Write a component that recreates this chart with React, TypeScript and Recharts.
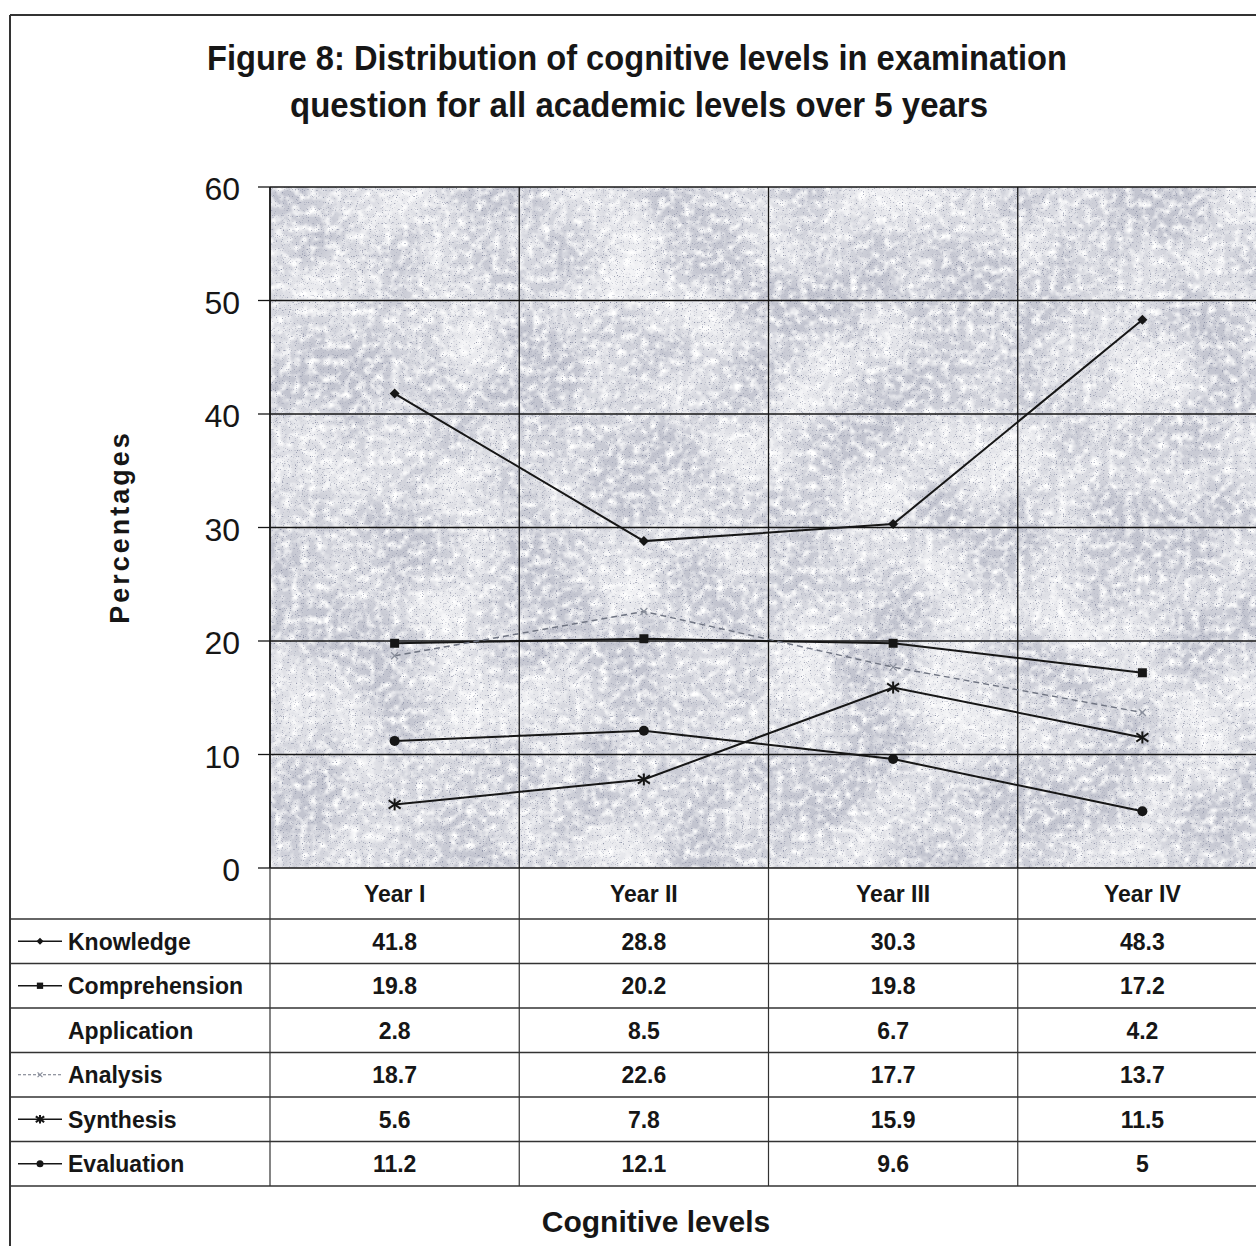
import React from "react";
import { LineChart, Line, XAxis, YAxis, CartesianGrid } from "recharts";

const years = ["Year I", "Year II", "Year III", "Year IV"];
const knowledge = [41.8, 28.8, 30.3, 48.3];
const comprehension = [19.8, 20.2, 19.8, 17.2];
const application = [2.8, 8.5, 6.7, 4.2];
const analysis = [18.7, 22.6, 17.7, 13.7];
const synthesis = [5.6, 7.8, 15.9, 11.5];
const evaluation = [11.2, 12.1, 9.6, 5];
const yTicks = [0, 10, 20, 30, 40, 50, 60];

const data = years.map((year, i) => ({
  year,
  knowledge: knowledge[i],
  comprehension: comprehension[i],
  application: application[i],
  analysis: analysis[i],
  synthesis: synthesis[i],
  evaluation: evaluation[i],
}));

// layout
const W = 1256;
const H = 1246;
const PLOT_L = 270;
const PLOT_T = 187;
const PLOT_B = 868;
const PLOT_R = 1267;
const CHART_W = 1290;
const COL_W = (PLOT_R - PLOT_L) / years.length;
const ROW_H = 44.5;
const TABLE_TOP = 919;
const FONT = "'Liberation Sans', Arial, sans-serif";
const INK = "#161616";

type Marker = "diamond" | "square" | "circle" | "star" | "cross" | "none";

function markerShape(kind: Marker, cx: number, cy: number, key?: React.Key, s = 1) {
  if (kind === "diamond") {
    const r = 5 * s;
    return <path key={key} d={`M${cx},${cy - r}L${cx + r},${cy}L${cx},${cy + r}L${cx - r},${cy}Z`} fill={INK} />;
  }
  if (kind === "square") {
    const r = 4.5 * s;
    return <rect key={key} x={cx - r} y={cy - r} width={2 * r} height={2 * r} fill={INK} />;
  }
  if (kind === "circle") {
    return <circle key={key} cx={cx} cy={cy} r={5 * s} fill={INK} />;
  }
  if (kind === "star") {
    const r = 6 * s;
    return (
      <g key={key} stroke={INK} strokeWidth={2}>
        <line x1={cx} y1={cy - r} x2={cx} y2={cy + r} />
        <line x1={cx - r} y1={cy - r * 0.7} x2={cx + r} y2={cy + r * 0.7} />
        <line x1={cx - r} y1={cy + r * 0.7} x2={cx + r} y2={cy - r * 0.7} />
      </g>
    );
  }
  if (kind === "cross") {
    const r = 3.5 * s;
    return (
      <g key={key} stroke="#8a8f9c" strokeWidth={1.2}>
        <line x1={cx - r} y1={cy - r} x2={cx + r} y2={cy + r} />
        <line x1={cx - r} y1={cy + r} x2={cx + r} y2={cy - r} />
      </g>
    );
  }
  return <g key={key} />;
}

const series: { key: string; name: string; values: number[]; marker: Marker; color: string; dash?: string; plotted: boolean }[] = [
  { key: "knowledge", name: "Knowledge", values: knowledge, marker: "diamond", color: INK, plotted: true },
  { key: "comprehension", name: "Comprehension", values: comprehension, marker: "square", color: INK, plotted: true },
  { key: "application", name: "Application", values: application, marker: "none", color: "none", plotted: false },
  { key: "analysis", name: "Analysis", values: analysis, marker: "cross", color: "#6f7482", dash: "6 4", plotted: true },
  { key: "synthesis", name: "Synthesis", values: synthesis, marker: "star", color: INK, plotted: true },
  { key: "evaluation", name: "Evaluation", values: evaluation, marker: "circle", color: INK, plotted: true },
];

function PlotBackground() {
  const w = PLOT_R - PLOT_L;
  const h = PLOT_B - PLOT_T;
  return (
    <svg width={W} height={H} style={{ position: "absolute", left: 0, top: 0 }}>
      <defs>
        <filter id="blot" x="0" y="0" width="100%" height="100%">
          <feTurbulence type="fractalNoise" baseFrequency="0.012" numOctaves="2" seed="7" />
          <feColorMatrix type="matrix" values="0 0 0 0 1  0 0 0 0 1  0 0 0 0 1  1.6 0 0 0 -0.55" />
        </filter>
        <filter id="grain" x="0" y="0" width="100%" height="100%">
          <feTurbulence type="fractalNoise" baseFrequency="0.12" numOctaves="2" seed="11" />
          <feColorMatrix type="matrix" values="0 0 0 0 1  0 0 0 0 1  0 0 0 0 1  2.4 0 0 0 -0.95" />
        </filter>
        <filter id="speck" x="0" y="0" width="100%" height="100%">
          <feTurbulence type="fractalNoise" baseFrequency="0.85" numOctaves="1" seed="2" />
          <feColorMatrix type="matrix" values="0 0 0 0 0.18  0 0 0 0 0.2  0 0 0 0 0.3  6 0 0 0 -3.7" />
        </filter>
      </defs>
      <rect x={PLOT_L} y={PLOT_T} width={w} height={h} fill="#c3c5d0" />
      <rect x={PLOT_L} y={PLOT_T} width={w} height={h} filter="url(#blot)" />
      <rect x={PLOT_L} y={PLOT_T} width={w} height={h} filter="url(#grain)" />
      <rect x={PLOT_L} y={PLOT_T} width={w} height={h} filter="url(#speck)" opacity={0.75} />
    </svg>
  );
}

function Overlay() {
  const rows = series.length;
  const tableBottom = TABLE_TOP + rows * ROW_H;
  return (
    <svg width={W} height={H} style={{ position: "absolute", left: 0, top: 0 }} fontFamily={FONT}>
      {/* frame */}
      <line x1={10} y1={15} x2={W} y2={15} stroke="#333" strokeWidth={2} />
      <line x1={10} y1={15} x2={10} y2={H} stroke="#333" strokeWidth={2} />

      {/* title */}
      <text x={637} y={70} textAnchor="middle" fontSize={35} fontWeight="bold" fill={INK} textLength={860} lengthAdjust="spacingAndGlyphs">
        Figure 8: Distribution of cognitive levels in examination
      </text>
      <text x={639} y={117} textAnchor="middle" fontSize={35} fontWeight="bold" fill={INK} textLength={698} lengthAdjust="spacingAndGlyphs">
        question for all academic levels over 5 years
      </text>

      {/* y label */}
      <text
        transform={`translate(129, 527) rotate(-90)`}
        textAnchor="middle"
        fontSize={27}
        fontWeight="bold"
        letterSpacing={3}
        fill={INK}
      >
        Percentages
      </text>

      {/* table grid */}
      {years.map((_, i) => (
        <line key={`v${i}`} x1={PLOT_L + i * COL_W} y1={PLOT_B} x2={PLOT_L + i * COL_W} y2={tableBottom} stroke="#333" strokeWidth={1.2} />
      ))}
      {series.map((_, i) => (
        <line key={`h${i}`} x1={10} y1={TABLE_TOP + i * ROW_H} x2={W} y2={TABLE_TOP + i * ROW_H} stroke="#333" strokeWidth={1.5} />
      ))}
      <line x1={10} y1={tableBottom} x2={W} y2={tableBottom} stroke="#333" strokeWidth={1.5} />

      {/* header */}
      {years.map((y, i) => (
        <text key={y} x={PLOT_L + (i + 0.5) * COL_W} y={902} textAnchor="middle" fontSize={23} fontWeight="bold" fill={INK}>
          {y}
        </text>
      ))}

      {/* rows */}
      {series.map((s, r) => {
        const cy = TABLE_TOP + (r + 0.5) * ROW_H;
        return (
          <g key={s.key}>
            {s.plotted && (
              <g>
                <line x1={18} y1={cy} x2={62} y2={cy} stroke={s.color} strokeWidth={s.dash ? 1 : 1.6} strokeDasharray={s.dash ? "3 2" : undefined} />
                {markerShape(s.marker, 40, cy, undefined, 0.7)}
              </g>
            )}
            <text x={68} y={cy + 8.5} fontSize={23} fontWeight="bold" fill={INK}>
              {s.name}
            </text>
            {s.values.map((v, i) => (
              <text key={i} x={PLOT_L + (i + 0.5) * COL_W} y={cy + 8.5} textAnchor="middle" fontSize={23} fontWeight="bold" fill={INK}>
                {v}
              </text>
            ))}
          </g>
        );
      })}

      {/* x title */}
      <text x={656} y={1232} textAnchor="middle" fontSize={30} fontWeight="bold" fill={INK}>
        Cognitive levels
      </text>
    </svg>
  );
}

export default function App() {
  return (
    <div style={{ position: "absolute", left: 0, top: 0, width: W, height: H, overflow: "hidden", background: "#fff" }}>
      <PlotBackground />
      <div style={{ position: "absolute", left: 0, top: 0 }}>
        <LineChart
          width={CHART_W}
          height={H}
          data={data}
          margin={{ top: PLOT_T, right: CHART_W - PLOT_R, bottom: H - PLOT_B, left: 0 }}
        >
          <CartesianGrid
            stroke={INK}
            strokeWidth={1.3}
            fill="none"
            verticalCoordinatesGenerator={({ offset }: any) =>
              years.map((_, i) => offset.left + (i * offset.width) / years.length).concat([offset.left + offset.width])
            }
          />
          <XAxis dataKey="year" hide padding={{ left: COL_W / 2, right: COL_W / 2 }} />
          <YAxis
            width={PLOT_L}
            domain={[0, 60]}
            ticks={yTicks}
            interval={0}
            axisLine={{ stroke: INK, strokeWidth: 1.5 }}
            tickLine={{ stroke: INK, strokeWidth: 1.3 }}
            tickSize={12}
            tickMargin={18}
            tick={{ fill: INK, fontSize: 32, fontFamily: FONT, dy: 2 }}
          />
          {series
            .filter((s) => s.plotted)
            .map((s) => (
              <Line
                key={s.key}
                dataKey={s.key}
                type="linear"
                stroke={s.color}
                strokeWidth={s.dash ? 1.4 : 2}
                strokeDasharray={s.dash}
                isAnimationActive={false}
                dot={(p: any) => markerShape(s.marker, p.cx, p.cy, p.index)}
                activeDot={false}
              />
            ))}
        </LineChart>
      </div>
      <Overlay />
    </div>
  );
}
